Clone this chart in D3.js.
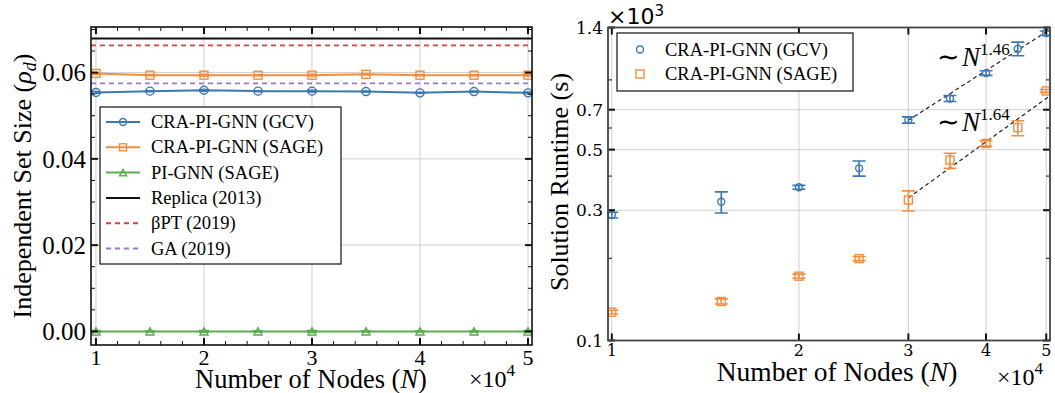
<!DOCTYPE html>
<html lang="en">
<head>
  <meta charset="utf-8"/>
  <title>Independent set size and runtime</title>
  <script src="https://cdn.jsdelivr.net/npm/d3@7/dist/d3.min.js"></script>
  <style>
    html, body { margin:0; padding:0; background:#fff; }
    svg { display:block; font-family:"Liberation Serif", serif; }
    .grid line { stroke:#cfcfcf; stroke-width:1; }
  </style>
</head>
<body>
<svg id="chart" width="1055" height="393"></svg>
<script>
  // ---- data (N in units of 10^4) ----
  const nodes = [1, 1.5, 2, 2.5, 3, 3.5, 4, 4.5, 5];

  // left: independent set size rho_d
  const rhoGCV  = [0.0554, 0.0557, 0.0559, 0.0557, 0.0557, 0.0556, 0.0553, 0.0556, 0.0553];
  const rhoSAGE = [0.0598, 0.0594, 0.0594, 0.0594, 0.0594, 0.0596, 0.0594, 0.0594, 0.0594];
  const rhoPI   = [0.0000, 0.0000, 0.0000, 0.0000, 0.0000, 0.0000, 0.0000, 0.0000, 0.0000];
  const rhoErr  = [0.0002, 0.0001, 0.0002, 0.0001, 0.0002, 0.0001, 0.0001, 0.0001, 0.0002];
  const refLines = [
    { label:"Replica (2013)", value:0.0679, color:"#111",    dash:null },
    { label:"βPT (2019)",     value:0.0663, color:"#dc4038", dash:"5,4" },
    { label:"GA (2019)",      value:0.0575, color:"#9a77d6", dash:"5,4" }
  ];
  const leftTicksY = [0.00, 0.02, 0.04, 0.06];
  const leftTicksX = [1, 2, 3, 4, 5];

  // right: solution runtime (x10^3 s)
  const timeGCV     = [0.288, 0.322, 0.364, 0.427, 0.642, 0.769, 0.953, 1.17, 1.336];
  const timeGCVlo   = [0.281, 0.293, 0.358, 0.400, 0.625, 0.750, 0.935, 1.103, 1.31];
  const timeGCVhi   = [0.295, 0.350, 0.370, 0.454, 0.659, 0.789, 0.972, 1.238, 1.36];
  const timeSAGE    = [0.127, 0.139, 0.172, 0.1995, 0.327, 0.458, 0.527, 0.602, 0.82];
  const timeSAGElo  = [0.125, 0.136, 0.169, 0.196, 0.298, 0.427, 0.515, 0.562, 0.81];
  const timeSAGEhi  = [0.129, 0.142, 0.175, 0.203, 0.353, 0.485, 0.539, 0.638, 0.83];
  const fits = [
    { exp:"1.46", k:1.46, y3:0.64,  from:3, to:5.1 },
    { exp:"1.64", k:1.64, y3:0.333, from:3, to:5.1 }
  ];
  const rightTicksY = [0.1, 0.3, 0.5, 0.7, 1.4];
  const rightMinorY = [0.2, 0.4, 0.6, 0.9];
  const rightTicksX = [1, 2, 3, 4, 5];

  const BLUE = "#3b78b4", ORANGE = "#f58e3c", GREEN = "#5aad4c";

  const svg = d3.select("#chart");

  // ---------- shared helpers ----------
  function marker(g, shape, x, y, color, size) {
    if (shape === "circle") {
      g.append("circle").attr("cx", x).attr("cy", y).attr("r", size/2)
        .attr("fill", "none").attr("stroke", color).attr("stroke-width", 1.4);
    } else if (shape === "square") {
      g.append("rect").attr("x", x-size/2).attr("y", y-size/2)
        .attr("width", size).attr("height", size)
        .attr("fill", "none").attr("stroke", color).attr("stroke-width", 1.4);
    } else {
      const h = size*0.9;
      g.append("path").attr("d", `M${x-size/2},${y+h/2}L${x+size/2},${y+h/2}L${x},${y-h/2}Z`)
        .attr("fill", "none").attr("stroke", color).attr("stroke-width", 1.4);
    }
  }
  function errBar(g, x, ylo, yhi, color, cap) {
    g.append("line").attr("x1", x).attr("x2", x).attr("y1", ylo).attr("y2", yhi)
      .attr("stroke", color).attr("stroke-width", 1.6);
    [ylo, yhi].forEach(y => g.append("line")
      .attr("x1", x-cap).attr("x2", x+cap).attr("y1", y).attr("y2", y)
      .attr("stroke", color).attr("stroke-width", 1.6));
  }
  function ticks(g, sx, sy, xs, ys, major, minorXs, minorYs, minor) {
    const [x0, x1] = sx.range(), [y0, y1] = sy.range();
    const add = (x1_, y1_, x2_, y2_, w) => g.append("line")
      .attr("x1", x1_).attr("y1", y1_).attr("x2", x2_).attr("y2", y2_)
      .attr("stroke", "#111").attr("stroke-width", w);
    xs.forEach(v => { const x = sx(v); add(x, y0, x, y0-major, 2); add(x, y1, x, y1+major, 2); });
    ys.forEach(v => { const y = sy(v); add(x0, y, x0+major, y, 2); add(x1, y, x1-major, y, 2); });
    minorXs.forEach(v => { const x = sx(v); add(x, y0, x, y0-minor, 1); add(x, y1, x, y1+minor, 1); });
    minorYs.forEach(v => { const y = sy(v); add(x0, y, x0+minor, y, 1); add(x1, y, x1-minor, y, 1); });
  }

  // ================= LEFT PANEL =================
  const L = { l:91, r:532, t:27, b:345 };
  const xL = d3.scaleLinear().domain([0.954, 5.037]).range([L.l, L.r]);
  const yL = d3.scaleLinear().domain([-0.00315, 0.07057]).range([L.b, L.t]);
  const gL = svg.append("g");

  const gridL = gL.append("g").attr("class", "grid");
  leftTicksX.forEach(v => gridL.append("line").attr("x1", xL(v)).attr("x2", xL(v)).attr("y1", L.t).attr("y2", L.b));
  leftTicksY.forEach(v => gridL.append("line").attr("x1", L.l).attr("x2", L.r).attr("y1", yL(v)).attr("y2", yL(v)));

  // reference lines
  refLines.forEach(r => gL.append("line")
    .attr("x1", L.l).attr("x2", L.r).attr("y1", yL(r.value)).attr("y2", yL(r.value))
    .attr("stroke", r.color).attr("stroke-width", 1.8)
    .attr("stroke-dasharray", r.dash));

  const leftSeries = [
    { label:"CRA-PI-GNN (GCV)",  vals:rhoGCV,  color:BLUE,   shape:"circle", size:8 },
    { label:"CRA-PI-GNN (SAGE)", vals:rhoSAGE, color:ORANGE, shape:"square", size:8 },
    { label:"PI-GNN (SAGE)",     vals:rhoPI,   color:GREEN,  shape:"tri",    size:8 }
  ];
  const lineL = d3.line().x((d, i) => xL(nodes[i])).y(d => yL(d));
  leftSeries.forEach(s => {
    gL.append("path").datum(s.vals).attr("d", lineL)
      .attr("fill", "none").attr("stroke", s.color).attr("stroke-width", 2);
    s.vals.forEach((v, i) => {
      errBar(gL, xL(nodes[i]), yL(v - rhoErr[i]), yL(v + rhoErr[i]), s.color, 5);
      marker(gL, s.shape, xL(nodes[i]), yL(v), s.color, s.size);
    });
  });

  ticks(gL, xL, yL, leftTicksX, leftTicksY, 7,
    d3.range(1, 5.01, 0.2).filter(v => Math.abs(v - Math.round(v)) > 1e-6),
    d3.range(0, 0.0701, 0.005).filter(v => Math.abs(v*50 - Math.round(v*50)) > 1e-6), 4);
  gL.append("rect").attr("x", L.l).attr("y", L.t).attr("width", L.r-L.l).attr("height", L.b-L.t)
    .attr("fill", "none").attr("stroke", "#111").attr("stroke-width", 1.6);

  leftTicksX.forEach(v => gL.append("text").attr("x", xL(v)).attr("y", 365)
    .attr("text-anchor", "middle").attr("font-size", 22).text(v));
  leftTicksY.forEach(v => gL.append("text").attr("x", 86).attr("y", yL(v)).attr("dy", "0.35em")
    .attr("text-anchor", "end").attr("font-size", 25).text(v.toFixed(2)));

  gL.append("text").attr("x", 311).attr("y", 388).attr("text-anchor", "middle").attr("font-size", 26.5)
    .html('Number of Nodes (<tspan font-style="italic">N</tspan>)');
  const x4L = gL.append("text").attr("x", 469).attr("y", 387).attr("font-size", 24);
  x4L.append("tspan").text("×10");
  x4L.append("tspan").attr("dy", -11).attr("font-size", 17).text("4");
  const yLab = gL.append("text").attr("transform", "translate(31,186) rotate(-90)")
    .attr("text-anchor", "middle").attr("font-size", 26);
  yLab.append("tspan").text("Independent Set Size (");
  yLab.append("tspan").attr("font-style", "italic").text("ρ");
  yLab.append("tspan").attr("font-style", "italic").attr("font-size", 18).attr("dy", 5).text("d");
  yLab.append("tspan").attr("dy", -5).text(")");

  // legend
  const legL = gL.append("g");
  legL.append("rect").attr("x", 100).attr("y", 107).attr("width", 241).attr("height", 157)
    .attr("fill", "#fff").attr("stroke", "#222").attr("stroke-width", 1.3);
  const legItems = leftSeries.map(s => ({ ...s, dash:null }))
    .concat(refLines.map(r => ({ label:r.label, color:r.color, dash:r.dash, shape:null })));
  legItems.forEach((it, i) => {
    const y = 122 + i*25.3;
    legL.append("line").attr("x1", 106).attr("x2", 140).attr("y1", y).attr("y2", y)
      .attr("stroke", it.color).attr("stroke-width", 2).attr("stroke-dasharray", it.dash);
    if (it.shape) marker(legL, it.shape, 123, y, it.color, 7);
    legL.append("text").attr("x", 151).attr("y", y).attr("dy", "0.33em")
      .attr("font-size", 18.5).text(it.label);
  });

  // ================= RIGHT PANEL =================
  const R = { l:608, r:1050, t:27.5, b:340.5 };
  const xR = d3.scaleLog().domain([0.986, 5.07]).range([R.l, R.r]);
  const yR = d3.scaleLog().domain([0.1, 1.4]).range([R.b, R.t]);
  const gR = svg.append("g");
  svg.append("clipPath").attr("id", "clipR").append("rect")
    .attr("x", R.l).attr("y", R.t).attr("width", R.r-R.l).attr("height", R.b-R.t);

  const gridR = gR.append("g").attr("class", "grid");
  rightTicksX.forEach(v => gridR.append("line").attr("x1", xR(v)).attr("x2", xR(v)).attr("y1", R.t).attr("y2", R.b));
  rightTicksY.forEach(v => gridR.append("line").attr("x1", R.l).attr("x2", R.r).attr("y1", yR(v)).attr("y2", yR(v)));

  // power-law fits
  fits.forEach(f => {
    const pts = d3.range(0, 21).map(j => {
      const x = f.from + (f.to - f.from) * j / 20;
      return [x, f.y3 * Math.pow(x / 3, f.k)];
    });
    gR.append("path").datum(pts)
      .attr("d", d3.line().x(d => xR(d[0])).y(d => yR(d[1])))
      .attr("clip-path", "url(#clipR)")
      .attr("fill", "none").attr("stroke", "#222").attr("stroke-width", 1.2)
      .attr("stroke-dasharray", "4,3");
  });

  const rightSeries = [
    { label:"CRA-PI-GNN (GCV)",  vals:timeGCV,  lo:timeGCVlo,  hi:timeGCVhi,  color:BLUE,   shape:"circle", size:7 },
    { label:"CRA-PI-GNN (SAGE)", vals:timeSAGE, lo:timeSAGElo, hi:timeSAGEhi, color:ORANGE, shape:"square", size:8 }
  ];
  rightSeries.forEach(s => {
    const gs = gR.append("g").attr("clip-path", "url(#clipR)");
    s.vals.forEach((v, i) => {
      errBar(gs, xR(nodes[i]), yR(s.lo[i]), yR(s.hi[i]), s.color, 6.5);
      marker(gs, s.shape, xR(nodes[i]), yR(v), s.color, s.size);
    });
  });

  // annotations
  [{ f:fits[0], x:937, y:66 }, { f:fits[1], x:937, y:131 }].forEach(a => {
    const t = gR.append("text").attr("x", a.x).attr("y", a.y).attr("font-size", 27);
    t.append("tspan").text("∼");
    t.append("tspan").attr("font-style", "italic").attr("dx", 2).text("N");
    t.append("tspan").attr("dy", -11).attr("font-size", 17).text(a.f.exp);
  });

  ticks(gR, xR, yR, rightTicksX, rightTicksY, 7, [], rightMinorY, 4);
  gR.append("rect").attr("x", R.l).attr("y", R.t).attr("width", R.r-R.l).attr("height", R.b-R.t)
    .attr("fill", "none").attr("stroke", "#444").attr("stroke-width", 1.8);

  rightTicksX.forEach(v => gR.append("text").attr("x", xR(v)).attr("y", 356)
    .attr("text-anchor", "middle").attr("font-family", "DejaVu Serif").attr("font-size", 16).text(v));
  rightTicksY.forEach(v => gR.append("text").attr("x", 603).attr("y", yR(v)).attr("dy", "0.36em")
    .attr("text-anchor", "end").attr("font-family", "DejaVu Serif").attr("font-size", 17).text(v));

  gR.append("text").attr("x", 837).attr("y", 381).attr("text-anchor", "middle").attr("font-size", 27.5)
    .html('Number of Nodes (<tspan font-style="italic">N</tspan>)');
  const x4R = gR.append("text").attr("x", 997).attr("y", 385).attr("font-size", 24);
  x4R.append("tspan").text("×10");
  x4R.append("tspan").attr("dy", -11).attr("font-size", 17).text("4");
  const x3R = gR.append("text").attr("x", 608).attr("y", 24).attr("font-size", 22)
    .attr("font-family", "DejaVu Sans");
  x3R.append("tspan").text("×10");
  x3R.append("tspan").attr("dy", -8).attr("font-size", 15).text("3");
  gR.append("text").attr("transform", "translate(568,182) rotate(-90)")
    .attr("text-anchor", "middle").attr("font-size", 26).text("Solution Runtime (s)");

  // legend
  const legR = gR.append("g");
  legR.append("rect").attr("x", 617).attr("y", 33).attr("width", 236).attr("height", 58)
    .attr("fill", "#fff").attr("stroke", "#222").attr("stroke-width", 1.3);
  rightSeries.forEach((s, i) => {
    const y = 49.5 + i*24.5;
    marker(legR, s.shape, 640, y, s.color, s.shape === "circle" ? 7 : 8);
    legR.append("text").attr("x", 665).attr("y", y).attr("dy", "0.33em")
      .attr("font-size", 18.5).text(s.label);
  });
</script>
</body>
</html>
